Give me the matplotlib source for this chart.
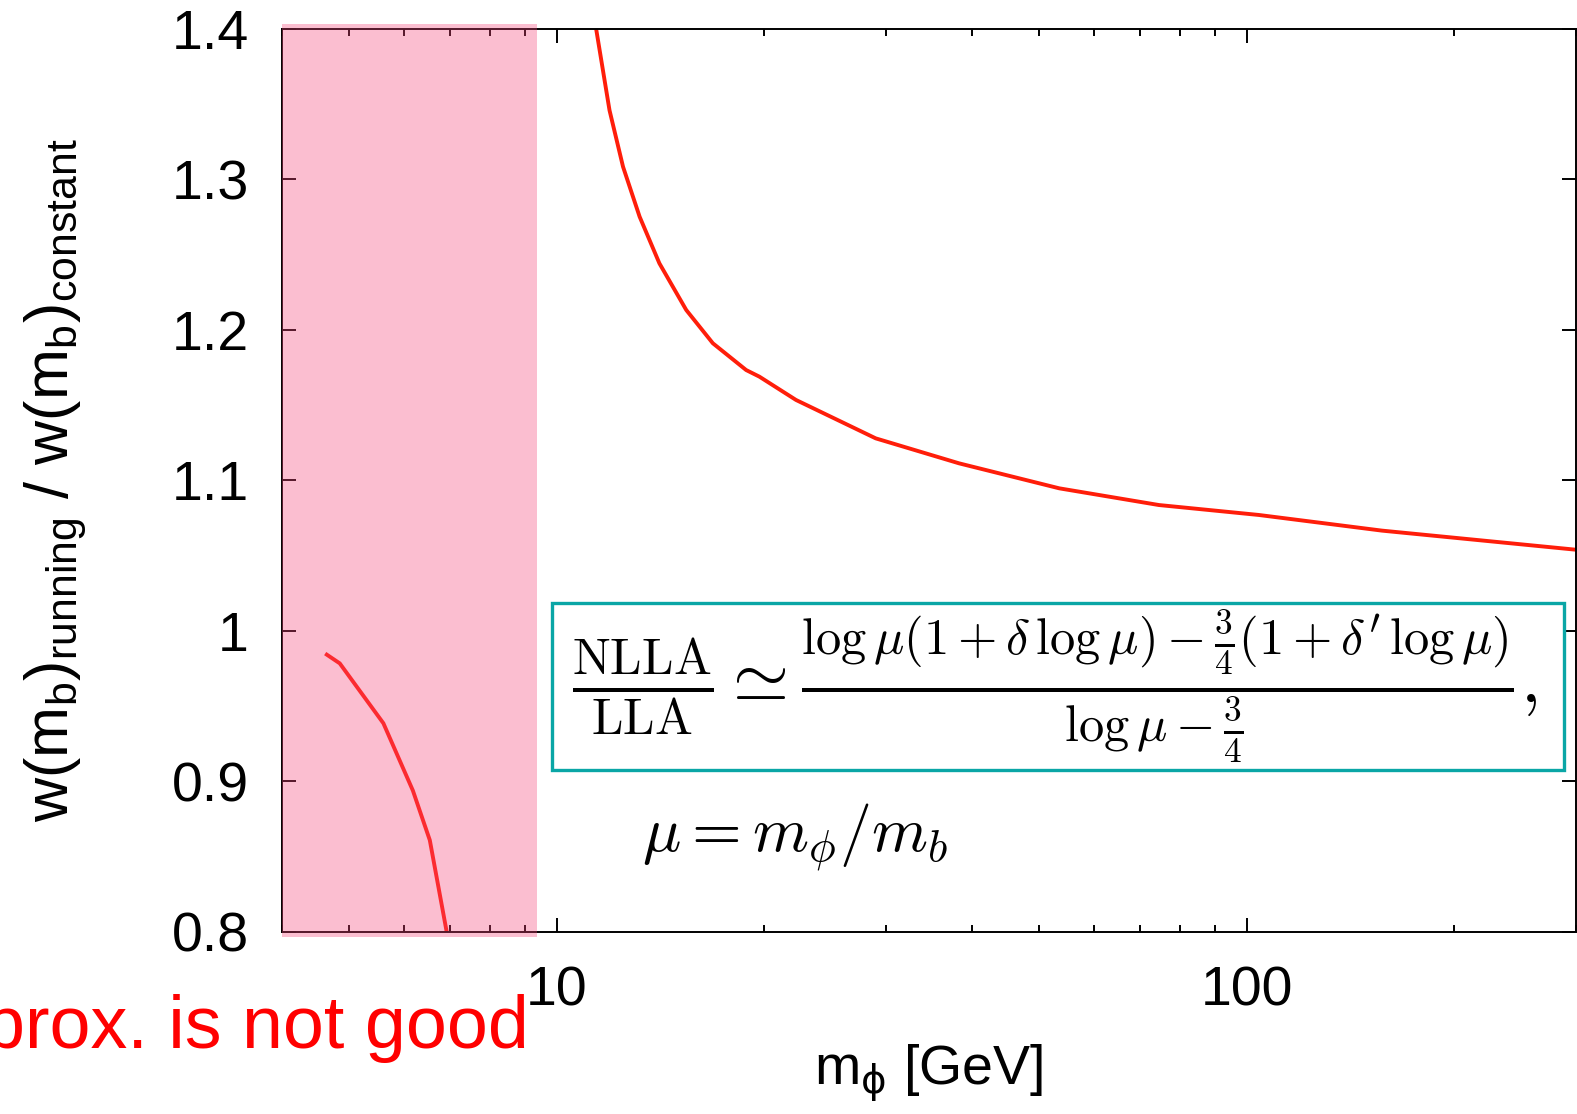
import matplotlib
matplotlib.use("Agg")
import matplotlib.pyplot as plt
from matplotlib.patches import Rectangle
from matplotlib.ticker import FixedLocator, FixedFormatter, LogLocator, NullFormatter

plt.rcParams["font.family"] = ["Liberation Sans", "DejaVu Sans"]

# Ratio of running-mass to constant-mass widths, below the 2 m_b threshold
low_mphi = [4.62, 4.85, 5.61, 6.19, 6.55, 6.93]
low_ratio = [0.985, 0.9785, 0.9387, 0.894, 0.861, 0.800]

# Same ratio above threshold
high_mphi = [11.41, 11.93, 12.48, 13.19, 14.09, 15.41, 16.84, 18.82, 19.67,
             22.23, 29.0, 38.3, 53.5, 74.6, 104.1, 157.0, 300.0]
high_ratio = [1.400, 1.346, 1.3085, 1.2753, 1.2443, 1.2133, 1.1912, 1.1734, 1.169,
              1.1535, 1.128, 1.1114, 1.0948, 1.0837, 1.0771, 1.0667, 1.054]

# Region where the approximation breaks down
shade_lo, shade_hi = 4.0, 9.36

x_ticks = [10, 100]
x_tick_labels = ["10", "100"]
y_ticks = [0.8, 0.9, 1.0, 1.1, 1.2, 1.3, 1.4]
y_tick_labels = ["0.8", "0.9", "1", "1.1", "1.2", "1.3", "1.4"]

W, H = 1577, 1114
fig = plt.figure(figsize=(W / 100, H / 100), dpi=100)
ax = fig.add_axes([282 / W, 1 - 932 / H, (1576 - 282) / W, (932 - 29) / H])

curve_color = "#ff1e0a"
ax.plot(low_mphi, low_ratio, color=curve_color, lw=2.8, solid_capstyle="butt")
ax.plot(high_mphi, high_ratio, color=curve_color, lw=2.8, solid_capstyle="butt")

ax.set_xscale("log")
ax.set_xlim(4, 300)
ax.set_ylim(0.8, 1.4)

ax.xaxis.set_major_locator(FixedLocator(x_ticks))
ax.xaxis.set_major_formatter(FixedFormatter(x_tick_labels))
ax.xaxis.set_minor_locator(LogLocator(base=10, subs=range(2, 10)))
ax.xaxis.set_minor_formatter(NullFormatter())
ax.yaxis.set_major_locator(FixedLocator(y_ticks))
ax.yaxis.set_major_formatter(FixedFormatter(y_tick_labels))

ax.tick_params(which="both", direction="in", top=True, right=True,
               width=1.4, labelsize=40, pad=24, colors="black")
ax.tick_params(which="major", length=10)
ax.tick_params(which="minor", length=5)
for sp in ax.spines.values():
    sp.set_linewidth(1.4)

# Shaded band drawn over the frame
ax.add_patch(Rectangle((shade_lo, -0.005), shade_hi - shade_lo, 1.01,
                       transform=ax.get_xaxis_transform(), facecolor="#F64579",
                       edgecolor="none", alpha=0.35, clip_on=False, zorder=5))

ax.set_xlabel(r"m$_{\mathrm{\phi}}$ [GeV]", fontsize=40, math_fontfamily="dejavusans")
ax.xaxis.set_label_coords(0.5, -0.122)
ax.set_ylabel(r"w(m$_\mathregular{b}$)$_\mathregular{running}$ / "
              r"w(m$_\mathregular{b}$)$_\mathregular{constant}$", fontsize=44)
ax.yaxis.set_label_coords(-0.149, 0.5)

# Boxed formula
fig.add_artist(Rectangle((552 / W, 1 - 770 / H), (1564 - 552) / W, (770 - 603) / H,
                         transform=fig.transFigure, facecolor="white",
                         edgecolor="#0aa6a6", lw=2.4, zorder=6))
formula = (r"$\frac{\mathrm{NLLA}}{\mathrm{LLA}} \simeq "
           r"\frac{\log\mu(1+\delta\,\log\mu)-\frac{3}{4}(1+\delta'\,\log\mu)}"
           r"{\log\mu-\frac{3}{4}},$")
fig.text(1055 / W, 1 - 687 / H, formula, math_fontfamily="cm", fontsize=52,
         ha="center", va="center", zorder=7)
fig.text(642 / W, 1 - 852 / H, r"$\mu = m_\phi/m_b$", math_fontfamily="cm",
         fontsize=46, ha="left", va="baseline")

fig.text(529 / W, 1 - 1048 / H, "approx. is not good", color="red",
         fontsize=53, ha="right", va="baseline")

fig.savefig("out.png", dpi=100)
